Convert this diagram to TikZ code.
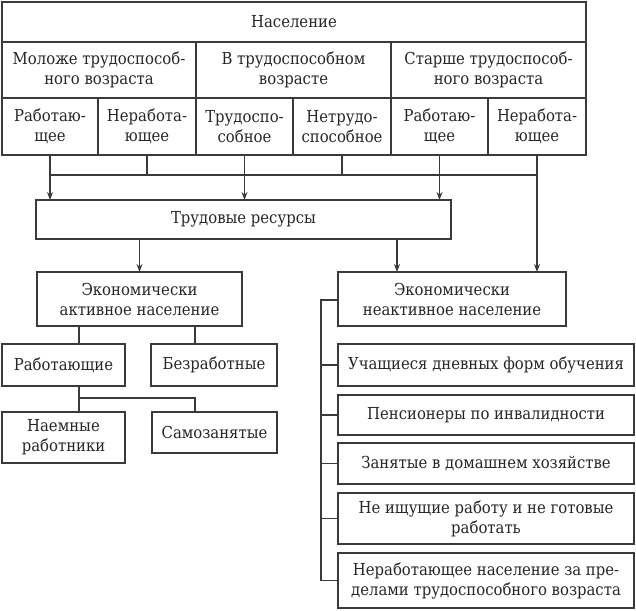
\documentclass[tikz,border=0pt]{standalone}
\usepackage{fontspec}
\setmainfont{DejaVu Serif Condensed}
\usetikzlibrary{arrows.meta}
\definecolor{ln}{HTML}{3A3A3A}
\definecolor{tx}{HTML}{262626}
\newcommand\mybox[6]{\node[box, minimum width={(#4-#2)*1pt}, minimum height={(#5-#3)*1pt}] (#1) at ({(#2+#4)/2},{(#3+#5)/2}) {#6};}
\tikzset{
  box/.style={draw=ln, line width=1.1pt, inner sep=0pt, outer sep=0pt, align=center, text=tx,
    font=\fontsize{16.5}{20}\selectfont},
  ln/.style={draw=ln, line width=1.1pt},
  arr/.style={ln, -{Stealth[length=8pt,width=6pt]}},
}
\begin{document}
\begin{tikzpicture}[x=1pt,y=-1pt]
\useasboundingbox (0,0) rectangle (636,610);
% table
\mybox{pop}{2}{2}{586}{42}{Население}
\mybox{g1}{2}{42}{196}{98}{Моложе трудоспособ-\\ного возраста}
\mybox{g2}{196}{42}{391}{98}{В трудоспособном\\возрасте}
\mybox{g3}{391}{42}{586}{98}{Старше трудоспособ-\\ного возраста}
\mybox{c1}{2}{98}{98}{155}{Работаю-\\щее}
\mybox{c2}{98}{98}{196}{155}{Неработа-\\ющее}
\mybox{c3}{196}{98}{293}{155}{Трудоспо-\\собное}
\mybox{c4}{293}{98}{391}{155}{Нетрудо-\\способное}
\mybox{c5}{391}{98}{488}{155}{Работаю-\\щее}
\mybox{c6}{488}{98}{586}{155}{Неработа-\\ющее}
% middle
\mybox{tr}{36}{200}{451}{239}{Трудовые ресурсы}
\mybox{act}{37}{272}{242}{326}{Экономически\\активное население}
\mybox{nact}{338}{272}{566}{326}{Экономически\\неактивное население}
\mybox{work}{2}{344}{125}{386}{Работающие}
\mybox{unemp}{151}{344}{277}{386}{Безработные}
\mybox{hired}{2}{412}{125}{463}{Наемные\\работники}
\mybox{self}{152}{412}{277}{453}{Самозанятые}
% right list
\mybox{r1}{338}{344}{634}{386}{Учащиеся дневных форм обучения}
\mybox{r2}{338}{395}{634}{435}{Пенсионеры по инвалидности}
\mybox{r3}{338}{443}{634}{484}{Занятые в домашнем хозяйстве}
\mybox{r4}{338}{493}{634}{544}{Не ищущие работу и не готовые\\работать}
\mybox{r5}{338}{553}{634}{608}{Неработающее население за пре-\\делами трудоспособного возраста}
% coordinates
\coordinate (hy) at (0,175);
\coordinate (xa) at (397,0);
\coordinate (xl) at (79,0);
\coordinate (xr) at (195,0);
\coordinate (hw) at (0,398);
\coordinate (vx) at (321,0);
\coordinate (vy) at (0,300);
% connectors from table
\draw[ln] (c1.south |- hy) -- (c6.south |- hy);
\draw[ln] (c2.south) -- (c2.south |- hy);
\draw[ln] (c4.south) -- (c4.south |- hy);
\draw[arr] (c1.south) -- (c1.south |- tr.north);
\draw[arr] (c3.south) -- (c3.south |- tr.north);
\draw[arr] (c5.south) -- (c5.south |- tr.north);
\draw[arr] (c6.south) -- (c6.south |- nact.north);
% from labour resources
\draw[arr] (tr.south -| act.north) -- (act.north);
\draw[arr] (tr.south -| xa) -- (nact.north -| xa);
% active
\draw[ln] (act.south -| xl) -- (work.north -| xl);
\draw[ln] (act.south -| xr) -- (unemp.north -| xr);
\draw[ln] (work.south -| xl) -- (hired.north -| xl);
\draw[ln] (hw -| xl) -- (hw -| xr) -- (self.north -| xr);
% inactive
\draw[ln] (nact.west |- vy) -- (vx |- vy) -- (vx |- r5.west) -- (r5.west);
\foreach \r in {r1,r2,r3,r4} \draw[ln] (vx |- \r.west) -- (\r.west);
\end{tikzpicture}
\end{document}
